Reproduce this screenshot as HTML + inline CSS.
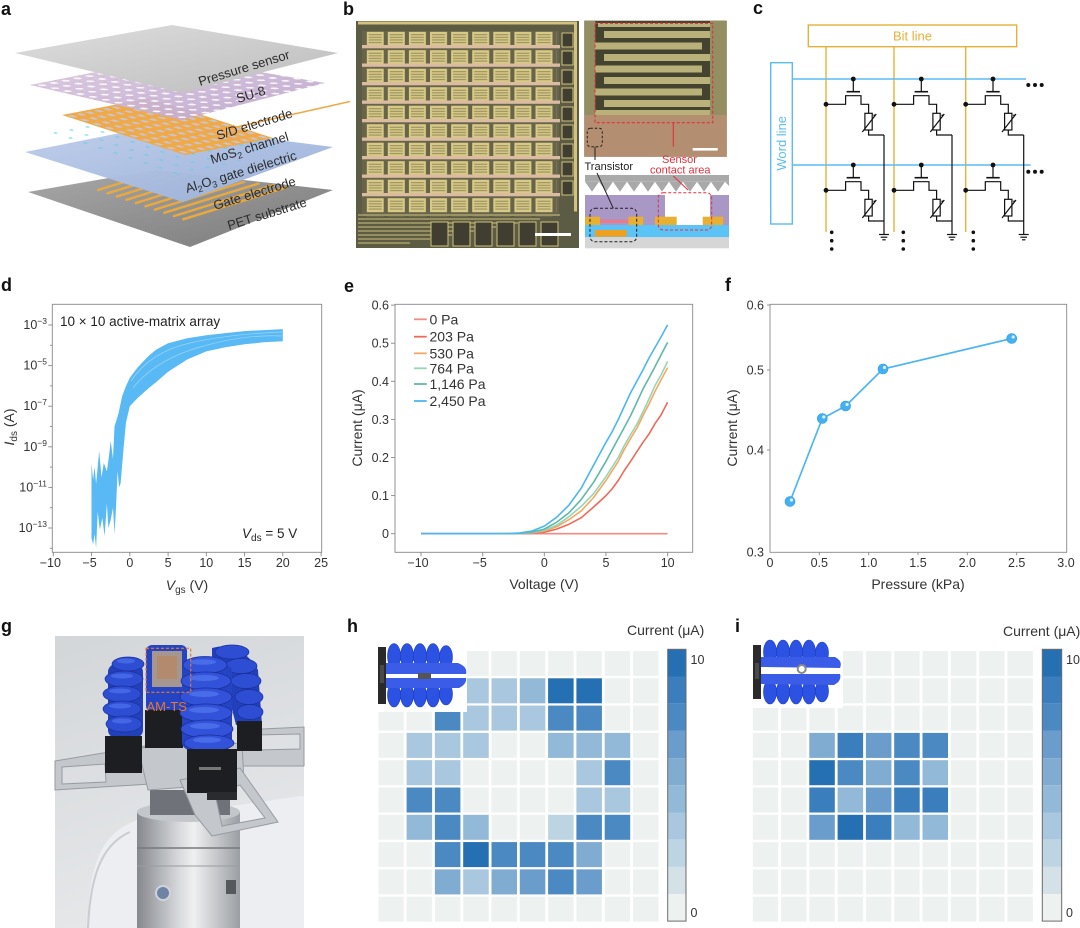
<!DOCTYPE html>
<html><head><meta charset="utf-8">
<style>
html,body{margin:0;padding:0;background:#fff;}
svg{display:block;font-family:"Liberation Sans",Arial,sans-serif;}
.t{font-size:12.5px;fill:#333}
.ax{font-size:14px;fill:#333}
.pl{font-size:18px;font-weight:bold;fill:#111}
.la{font-size:13px;fill:#2b2b2b}
.l0{fill:#edf2f1}.l1{fill:#d4e2e8}.l2{fill:#bdd4e3}.l3{fill:#a9c7de}.l4{fill:#93b9d8}
.l5{fill:#80acd2}.l6{fill:#6a9ccc}.l7{fill:#4b89c3}.l8{fill:#3a7ebd}.l9{fill:#2470b2}
</style></head><body>
<svg width="1080" height="928" viewBox="0 0 1080 928" xmlns="http://www.w3.org/2000/svg">
<defs>
<linearGradient id="gPS" x1="0" y1="0" x2="1" y2="1"><stop offset="0" stop-color="#dedede"/><stop offset="1" stop-color="#bcbcbc"/></linearGradient>
<linearGradient id="gSU" x1="0" y1="0" x2="1" y2="1"><stop offset="0" stop-color="#dccbe3"/><stop offset="1" stop-color="#bba3cb"/></linearGradient>
<linearGradient id="gBL" x1="0" y1="0" x2="1" y2="1"><stop offset="0" stop-color="#bfcdea"/><stop offset="1" stop-color="#98b0da"/></linearGradient>
<linearGradient id="gPET" x1="0" y1="0" x2="1" y2="1"><stop offset="0" stop-color="#a8a8a8"/><stop offset="1" stop-color="#7a7a7a"/></linearGradient>
<linearGradient id="gPhoto" x1="0" y1="0" x2="0.3" y2="1"><stop offset="0" stop-color="#d3d6d9"/><stop offset="1" stop-color="#e6e8ea"/></linearGradient>
<linearGradient id="gCyl" x1="0" y1="0" x2="1" y2="0"><stop offset="0" stop-color="#85888d"/><stop offset="0.4" stop-color="#d6d8db"/><stop offset="0.55" stop-color="#eff0f1"/><stop offset="1" stop-color="#9b9ea3"/></linearGradient>
<pattern id="suDots" patternUnits="userSpaceOnUse" width="10" height="10" patternTransform="matrix(1.18,-0.23,1.27,0.29,30,85)">
<circle cx="5" cy="5" r="2.4" fill="#fff" opacity="0.85"/><circle cx="0" cy="0" r="1.6" fill="#e3a260" opacity="0.55"/></pattern>
<pattern id="sdGrid" patternUnits="userSpaceOnUse" width="10" height="10" patternTransform="matrix(0.88,-0.17,1.23,0.4,62,115)">
<rect width="10" height="10" fill="#f0a948"/><rect x="2.6" y="2.6" width="4.8" height="4.8" fill="#c8c5cf"/></pattern>
<pattern id="cyDots" patternUnits="userSpaceOnUse" width="10" height="10" patternTransform="matrix(1.6,-0.3,1.5,0.5,40,132)">
<circle cx="5" cy="5" r="0.9" fill="#5ccfe3"/></pattern>
<pattern id="cellp" patternUnits="userSpaceOnUse" x="366.7" y="31.7" width="21.1" height="18.5">
<rect width="17" height="14" fill="#d8c985"/><rect x="2" y="2.6" width="13" height="0.9" fill="#8a8459"/><rect x="2" y="5.2" width="13" height="0.9" fill="#8a8459"/><rect x="2" y="7.8" width="13" height="0.9" fill="#8a8459"/><rect x="2" y="10.4" width="13" height="0.9" fill="#8a8459"/></pattern>
<pattern id="hm0" patternUnits="userSpaceOnUse" x="378.3" y="651" width="28.3" height="27.3"><rect width="25.5" height="25" fill="#edf2f1"/></pattern>
<pattern id="hm1" patternUnits="userSpaceOnUse" x="752.7" y="651" width="28.3" height="27.3"><rect width="25.5" height="25" fill="#edf2f1"/></pattern>
</defs>

<!-- ===== Panel labels ===== -->
<text class="pl" x="1" y="15">a</text>
<text class="pl" x="343" y="15">b</text>
<text class="pl" x="753" y="14">c</text>
<text class="pl" x="1" y="291">d</text>
<text class="pl" x="344" y="292">e</text>
<text class="pl" x="725" y="291">f</text>
<text class="pl" x="1" y="632">g</text>
<text class="pl" x="347" y="632">h</text>
<text class="pl" x="735" y="632">i</text>

<!-- ===== Panel a ===== -->
<polygon points="28,192 155,170 333,190 190,247" fill="url(#gPET)"/>
<g stroke="#e9a93c" stroke-width="2.4" stroke-linecap="round">
<line x1="98" y1="190" x2="155.8" y2="172.1"/>
<line x1="107.5" y1="193.3" x2="170.5" y2="173.8"/>
<line x1="116.9" y1="196.5" x2="185" y2="175.4"/>
<line x1="126.4" y1="199.8" x2="199.9" y2="177"/>
<line x1="135.9" y1="203" x2="214.4" y2="178.7"/>
<line x1="145.4" y1="206.3" x2="229.3" y2="180.3"/>
<line x1="154.8" y1="209.6" x2="244" y2="181.9"/>
<line x1="164.3" y1="212.8" x2="258.4" y2="183.6"/>
<line x1="173.8" y1="216.1" x2="273.4" y2="185.2"/>
<line x1="183.2" y1="219.3" x2="287.8" y2="186.9"/>
</g>
<polygon points="25,152 160,125 333,147 183,202" fill="url(#gBL)" opacity="0.97"/>
<polygon points="40,132 150,118 300,140 190,178" fill="url(#cyDots)"/>
<polygon points="62,115 150,98 273,138 185,155" fill="url(#sdGrid)"/>
<polygon points="30,85 172,57 325,83 182,120" fill="url(#gSU)" opacity="0.93"/>
<polygon points="30,85 172,57 325,83 182,120" fill="url(#suDots)"/>
<line x1="232" y1="128" x2="350" y2="101.5" stroke="#f0a948" stroke-width="1.6"/>
<polygon points="15,53 172,25 338,53 182,93" fill="url(#gPS)"/>
<g class="la">
<text transform="translate(200,86) rotate(-17)">Pressure sensor</text>
<text transform="translate(238,103) rotate(-17)">SU-8</text>
<text transform="translate(218,140) rotate(-17)">S/D electrode</text>
<text transform="translate(212,164) rotate(-17)">MoS<tspan font-size="9" dy="3">2</tspan><tspan dy="-3"> channel</tspan></text>
<text transform="translate(187,193) rotate(-17)">Al<tspan font-size="9" dy="3">2</tspan><tspan dy="-3">O</tspan><tspan font-size="9" dy="3">3</tspan><tspan dy="-3"> gate dielectric</tspan></text>
<text transform="translate(215,210) rotate(-17)">Gate electrode</text>
<text transform="translate(229,230) rotate(-17)">PET substrate</text>
</g>

<!-- ===== Panel b ===== -->
<rect x="356" y="21" width="223" height="227" fill="#5c5b43"/>
<rect x="358" y="21.5" width="218" height="3" fill="#d2c27e"/>
<rect x="574" y="21.5" width="3" height="190" fill="#d2c27e"/>
<rect x="362" y="31" width="197" height="185" fill="#66644a"/>
<rect x="366.7" y="31.7" width="190" height="185" fill="url(#cellp)"/>
<g fill="#dcbca0">
<rect x="362" y="45" width="198" height="3.3"/><rect x="362" y="63.5" width="198" height="3.3"/><rect x="362" y="82" width="198" height="3.3"/><rect x="362" y="100.5" width="198" height="3.3"/><rect x="362" y="119" width="198" height="3.3"/><rect x="362" y="137.5" width="198" height="3.3"/><rect x="362" y="156" width="198" height="3.3"/><rect x="362" y="174.5" width="198" height="3.3"/><rect x="362" y="193" width="198" height="3.3"/>
</g>
<g fill="#3f3e30" stroke="#d2c27e" stroke-width="1">
<rect x="562" y="33" width="11" height="14"/><rect x="562" y="51" width="11" height="14"/><rect x="562" y="70" width="11" height="14"/><rect x="562" y="88" width="11" height="14"/><rect x="562" y="107" width="11" height="14"/><rect x="562" y="125" width="11" height="14"/><rect x="562" y="144" width="11" height="14"/><rect x="562" y="162" width="11" height="14"/><rect x="562" y="181" width="11" height="14"/>
</g>
<g stroke="#d2c27e" stroke-width="1.1">
<line x1="358" y1="215" x2="560" y2="215"/><line x1="358" y1="219" x2="540" y2="219"/><line x1="358" y1="223" x2="518" y2="223"/><line x1="358" y1="227" x2="496" y2="227"/><line x1="358" y1="231" x2="474" y2="231"/><line x1="358" y1="235" x2="452" y2="235"/><line x1="358" y1="239" x2="430" y2="239"/><line x1="358" y1="243" x2="410" y2="243"/>
</g>
<g fill="#3f3e30" stroke="#d2c27e" stroke-width="1">
<rect x="431" y="222" width="17" height="24"/><rect x="453" y="222" width="17" height="24"/><rect x="475" y="222" width="17" height="24"/><rect x="497" y="222" width="17" height="24"/><rect x="519" y="222" width="17" height="24"/><rect x="541" y="222" width="17" height="24"/>
</g>
<rect x="535" y="233" width="36" height="3" fill="#fff"/>
<!-- right top micrograph -->
<rect x="584.3" y="20.7" width="142.4" height="136" fill="#44432f"/>
<rect x="584.3" y="115" width="142.4" height="41.7" fill="#b38e70"/>
<rect x="584.3" y="20.7" width="11" height="94.3" fill="#948f62"/>
<rect x="710" y="20.7" width="16.7" height="94.3" fill="#948f62"/>
<g fill="#b9b07a">
<rect x="598" y="23" width="112" height="4"/>
<rect x="604" y="31" width="106" height="7"/><rect x="595" y="42.5" width="107" height="7"/>
<rect x="604" y="54" width="106" height="7"/><rect x="595" y="65.5" width="107" height="7"/>
<rect x="604" y="77" width="106" height="7"/><rect x="595" y="88.5" width="107" height="7"/>
<rect x="604" y="100" width="106" height="7"/><rect x="595" y="110" width="115" height="5"/>
</g>
<rect x="595" y="23.3" width="117.7" height="99.4" fill="none" stroke="#e3303c" stroke-width="1.1" stroke-dasharray="3,2"/>
<line x1="673.3" y1="122.7" x2="673.3" y2="146.7" stroke="#e3303c" stroke-width="1.1"/>
<rect x="692.7" y="148" width="25" height="2.6" fill="#fff"/>
<rect x="587.3" y="128.3" width="15" height="18.4" rx="3" fill="none" stroke="#222" stroke-width="1" stroke-dasharray="2.5,2"/>
<line x1="595" y1="146.7" x2="595" y2="160" stroke="#222" stroke-width="1"/>
<text x="584.5" y="170" font-size="11" fill="#222">Transistor</text>
<text x="662" y="163" font-size="11" fill="#e3303c">Sensor</text>
<text x="650" y="173.3" font-size="11" fill="#e3303c">contact area</text>
<!-- cross-section -->
<rect x="585" y="175" width="144" height="6.7" fill="#a9a9a9"/>
<path d="M585,181.7 L592,191.7 L599,181.7 L606,191.7 L613,181.7 L620,191.7 L627,181.7 L634,191.7 L641,181.7 L648,191.7 L655,181.7 L662,191.7 L669,181.7 L676,191.7 L683,181.7 L690,191.7 L697,181.7 L704,191.7 L711,181.7 L718,191.7 L725,181.7 L729,186 L729,181.7 Z" fill="#a9a9a9"/>
<rect x="585" y="195" width="144" height="30" fill="#a997c5"/>
<rect x="665" y="195" width="45" height="30" fill="#fff"/>
<g fill="#e8b030"><rect x="585" y="216.7" width="15" height="8.3"/><rect x="628.3" y="216.7" width="15" height="8.3"/><rect x="655" y="216.7" width="21.7" height="8.3"/><rect x="702.7" y="216.7" width="20.6" height="8.3"/></g>
<rect x="600" y="219.7" width="28.3" height="3.3" fill="#e87a8a"/>
<rect x="585" y="225" width="144" height="12.3" fill="#5cc3f7"/>
<rect x="595" y="230" width="31.7" height="6.7" fill="#f0a020"/>
<rect x="585" y="237.3" width="144" height="11" fill="#d6d6d6"/>
<rect x="590" y="208.3" width="46.7" height="33.4" rx="5" fill="none" stroke="#222" stroke-width="1" stroke-dasharray="3,2"/>
<rect x="658.3" y="192.7" width="53.4" height="37.3" rx="5" fill="none" stroke="#e3303c" stroke-width="1" stroke-dasharray="3,2"/>
<line x1="597" y1="173" x2="613.3" y2="208.3" stroke="#222" stroke-width="1"/>
<line x1="673.3" y1="176" x2="688" y2="190" stroke="#e3303c" stroke-width="1"/>

<!-- ===== Panel c ===== -->
<rect x="808.3" y="25" width="208.4" height="21.7" fill="none" stroke="#e8b03a" stroke-width="1.4"/>
<text x="912.5" y="40.5" text-anchor="middle" font-size="13" fill="#e8b03a">Bit line</text>
<rect x="770.7" y="62.7" width="21.6" height="161.3" fill="none" stroke="#5bbcf5" stroke-width="1.4"/>
<text transform="translate(786,143.3) rotate(-90)" text-anchor="middle" font-size="13" fill="#5bbcf5">Word line</text>
<g stroke="#e8b03a" stroke-width="1.4">
<line x1="826" y1="46.7" x2="826" y2="232"/><line x1="894" y1="46.7" x2="894" y2="232"/><line x1="965.7" y1="46.7" x2="965.7" y2="232"/>
</g>
<g stroke="#5bbcf5" stroke-width="1.4">
<line x1="792.3" y1="79" x2="1026" y2="79"/><line x1="792.3" y1="165" x2="1030.7" y2="165"/>
</g>
<g fill="#111">
<circle cx="1028.3" cy="85" r="2"/><circle cx="1035" cy="85" r="2"/><circle cx="1041.7" cy="85" r="2"/>
<circle cx="1028.3" cy="171.7" r="2"/><circle cx="1035" cy="171.7" r="2"/><circle cx="1041.7" cy="171.7" r="2"/>
<circle cx="831.7" cy="232.3" r="1.8"/><circle cx="831.7" cy="240.7" r="1.8"/><circle cx="831.7" cy="249" r="1.8"/>
<circle cx="903.3" cy="232.3" r="1.8"/><circle cx="903.3" cy="240.7" r="1.8"/><circle cx="903.3" cy="249" r="1.8"/>
<circle cx="973.3" cy="232.3" r="1.8"/><circle cx="973.3" cy="240.7" r="1.8"/><circle cx="973.3" cy="249" r="1.8"/>
</g>
<g>
<g transform="translate(826,79)">
<g fill="none" stroke="#111" stroke-width="1.2">
<line x1="27.3" y1="0" x2="27.3" y2="12.7"/><line x1="20.6" y1="12.7" x2="34" y2="12.7" stroke-width="1.6"/>
<path d="M0,25.3 H19.6 V16.7 H35 V25.3 H42.6 V34.3"/>
<rect x="38.9" y="34.3" width="7.3" height="16.7"/>
<line x1="36.3" y1="53" x2="50.3" y2="35"/>
<path d="M42.6,51 V56 H58"/>
</g>
<path d="M50.3,35 l-3.4,1 l1.6,1.4 Z" fill="#111"/>
<circle cx="27.3" cy="0" r="2.4" fill="#111"/><circle cx="0" cy="25.3" r="2.4" fill="#111"/>
</g>
<g transform="translate(826,165)">
<g fill="none" stroke="#111" stroke-width="1.2">
<line x1="27.3" y1="0" x2="27.3" y2="12.7"/><line x1="20.6" y1="12.7" x2="34" y2="12.7" stroke-width="1.6"/>
<path d="M0,25.3 H19.6 V16.7 H35 V25.3 H42.6 V34.3"/>
<rect x="38.9" y="34.3" width="7.3" height="16.7"/>
<line x1="36.3" y1="53" x2="50.3" y2="35"/>
<path d="M42.6,51 V56 H58"/>
</g>
<path d="M50.3,35 l-3.4,1 l1.6,1.4 Z" fill="#111"/>
<circle cx="27.3" cy="0" r="2.4" fill="#111"/><circle cx="0" cy="25.3" r="2.4" fill="#111"/>
</g>
<g fill="none" stroke="#111" stroke-width="1.2">
<line x1="884" y1="135" x2="884" y2="234"/>
<line x1="879" y1="234.5" x2="889" y2="234.5"/><line x1="880.7" y1="237.2" x2="887.3" y2="237.2"/><line x1="882.3" y1="239.8" x2="885.7" y2="239.8"/>
</g>
</g>
<g transform="translate(68,0)">
<g transform="translate(826,79)">
<g fill="none" stroke="#111" stroke-width="1.2">
<line x1="27.3" y1="0" x2="27.3" y2="12.7"/><line x1="20.6" y1="12.7" x2="34" y2="12.7" stroke-width="1.6"/>
<path d="M0,25.3 H19.6 V16.7 H35 V25.3 H42.6 V34.3"/>
<rect x="38.9" y="34.3" width="7.3" height="16.7"/>
<line x1="36.3" y1="53" x2="50.3" y2="35"/>
<path d="M42.6,51 V56 H58"/>
</g>
<path d="M50.3,35 l-3.4,1 l1.6,1.4 Z" fill="#111"/>
<circle cx="27.3" cy="0" r="2.4" fill="#111"/><circle cx="0" cy="25.3" r="2.4" fill="#111"/>
</g>
<g transform="translate(826,165)">
<g fill="none" stroke="#111" stroke-width="1.2">
<line x1="27.3" y1="0" x2="27.3" y2="12.7"/><line x1="20.6" y1="12.7" x2="34" y2="12.7" stroke-width="1.6"/>
<path d="M0,25.3 H19.6 V16.7 H35 V25.3 H42.6 V34.3"/>
<rect x="38.9" y="34.3" width="7.3" height="16.7"/>
<line x1="36.3" y1="53" x2="50.3" y2="35"/>
<path d="M42.6,51 V56 H58"/>
</g>
<path d="M50.3,35 l-3.4,1 l1.6,1.4 Z" fill="#111"/>
<circle cx="27.3" cy="0" r="2.4" fill="#111"/><circle cx="0" cy="25.3" r="2.4" fill="#111"/>
</g>
<g fill="none" stroke="#111" stroke-width="1.2">
<line x1="884" y1="135" x2="884" y2="234"/>
<line x1="879" y1="234.5" x2="889" y2="234.5"/><line x1="880.7" y1="237.2" x2="887.3" y2="237.2"/><line x1="882.3" y1="239.8" x2="885.7" y2="239.8"/>
</g>
</g>
<g transform="translate(139.7,0)">
<g transform="translate(826,79)">
<g fill="none" stroke="#111" stroke-width="1.2">
<line x1="27.3" y1="0" x2="27.3" y2="12.7"/><line x1="20.6" y1="12.7" x2="34" y2="12.7" stroke-width="1.6"/>
<path d="M0,25.3 H19.6 V16.7 H35 V25.3 H42.6 V34.3"/>
<rect x="38.9" y="34.3" width="7.3" height="16.7"/>
<line x1="36.3" y1="53" x2="50.3" y2="35"/>
<path d="M42.6,51 V56 H58"/>
</g>
<path d="M50.3,35 l-3.4,1 l1.6,1.4 Z" fill="#111"/>
<circle cx="27.3" cy="0" r="2.4" fill="#111"/><circle cx="0" cy="25.3" r="2.4" fill="#111"/>
</g>
<g transform="translate(826,165)">
<g fill="none" stroke="#111" stroke-width="1.2">
<line x1="27.3" y1="0" x2="27.3" y2="12.7"/><line x1="20.6" y1="12.7" x2="34" y2="12.7" stroke-width="1.6"/>
<path d="M0,25.3 H19.6 V16.7 H35 V25.3 H42.6 V34.3"/>
<rect x="38.9" y="34.3" width="7.3" height="16.7"/>
<line x1="36.3" y1="53" x2="50.3" y2="35"/>
<path d="M42.6,51 V56 H58"/>
</g>
<path d="M50.3,35 l-3.4,1 l1.6,1.4 Z" fill="#111"/>
<circle cx="27.3" cy="0" r="2.4" fill="#111"/><circle cx="0" cy="25.3" r="2.4" fill="#111"/>
</g>
<g fill="none" stroke="#111" stroke-width="1.2">
<line x1="884" y1="135" x2="884" y2="234"/>
<line x1="879" y1="234.5" x2="889" y2="234.5"/><line x1="880.7" y1="237.2" x2="887.3" y2="237.2"/><line x1="882.3" y1="239.8" x2="885.7" y2="239.8"/>
</g>
</g>

<!-- ===== Panel d ===== -->
<polygon fill="#58b9f4" points="91.5,463.4 93.1,479.6 94.6,467.1 96.1,484 99.2,450.9 101.5,477.3 103.8,463 106.9,471.2 109.1,455 110.7,440.7 113,459 114.5,426.5 118.3,414.3 122.2,396 126,386 129.8,377.8 137.5,367.6 145.1,359.5 149,355.5 156.6,349.4 168.1,343.3 187.2,338.2 206.3,335.2 225.4,333.1 244.6,331.1 263.7,330.1 282.8,329.1 282.8,341.2 263.7,342.3 244.6,344.3 225.4,347.3 206.3,351.4 187.2,359.5 168.1,371.7 156.6,381.8 149,387.9 137.5,398.1 129.8,406.2 126,422.4 123.7,446.8 120.6,483.3 119.1,487.4 117.6,471.2 116,507.7 114.5,534.1 113,507.7 110.7,519.9 108.4,528 106.9,503.6 104.6,536.1 102.3,517.8 99.9,530 97.7,511.8 96.1,548.3 94.6,534.1 93.1,544.2 91.5,538.2"/>
<g fill="none" stroke="#ffffff" stroke-width="0.7" opacity="0.4">
<path d="M131,381 Q150,352 190,343 T282,332"/><path d="M133,388 Q155,360 200,347 T282,336"/>
</g>
<rect x="52.3" y="304.3" width="269.4" height="248" fill="none" stroke="#888" stroke-width="0.9"/>
<g stroke="#888" stroke-width="0.9">
<line x1="48.3" y1="325" x2="52.3" y2="325"/><line x1="50" y1="345.3" x2="52.3" y2="345.3"/><line x1="48.3" y1="365.6" x2="52.3" y2="365.6"/><line x1="50" y1="385.9" x2="52.3" y2="385.9"/><line x1="48.3" y1="406.2" x2="52.3" y2="406.2"/><line x1="50" y1="426.5" x2="52.3" y2="426.5"/><line x1="48.3" y1="446.8" x2="52.3" y2="446.8"/><line x1="50" y1="467.1" x2="52.3" y2="467.1"/><line x1="48.3" y1="487.4" x2="52.3" y2="487.4"/><line x1="50" y1="507.7" x2="52.3" y2="507.7"/><line x1="48.3" y1="528" x2="52.3" y2="528"/><line x1="50" y1="548.3" x2="52.3" y2="548.3"/>
<line x1="53.3" y1="552.3" x2="53.3" y2="556.3"/><line x1="91.6" y1="552.3" x2="91.6" y2="556.3"/><line x1="129.8" y1="552.3" x2="129.8" y2="556.3"/><line x1="168.1" y1="552.3" x2="168.1" y2="556.3"/><line x1="206.3" y1="552.3" x2="206.3" y2="556.3"/><line x1="244.6" y1="552.3" x2="244.6" y2="556.3"/><line x1="282.8" y1="552.3" x2="282.8" y2="556.3"/><line x1="321.1" y1="552.3" x2="321.1" y2="556.3"/>
</g>
<g class="t" text-anchor="end">
<text x="47" y="329">10<tspan font-size="8.5" dy="-5">−3</tspan></text>
<text x="47" y="369.6">10<tspan font-size="8.5" dy="-5">−5</tspan></text>
<text x="47" y="410.2">10<tspan font-size="8.5" dy="-5">−7</tspan></text>
<text x="47" y="450.8">10<tspan font-size="8.5" dy="-5">−9</tspan></text>
<text x="47" y="491.4">10<tspan font-size="8.5" dy="-5">−11</tspan></text>
<text x="47" y="532">10<tspan font-size="8.5" dy="-5">−13</tspan></text>
</g>
<g class="t" text-anchor="middle">
<text x="50.3" y="567">−10</text><text x="89.6" y="567">−5</text><text x="129.8" y="567">0</text><text x="168.1" y="567">5</text><text x="206.3" y="567">10</text><text x="244.6" y="567">15</text><text x="282.8" y="567">20</text><text x="321.1" y="567">25</text>
</g>
<text class="ax" x="187" y="590" text-anchor="middle"><tspan font-style="italic">V</tspan><tspan font-size="10" dy="3">gs</tspan><tspan dy="-3"> (V)</tspan></text>
<text class="ax" transform="translate(14,427) rotate(-90)" text-anchor="middle"><tspan font-style="italic">I</tspan><tspan font-size="10" dy="3">ds</tspan><tspan dy="-3"> (A)</tspan></text>
<text x="60" y="326" font-size="13.5" fill="#222">10 × 10 active-matrix array</text>
<text x="242" y="538" font-size="13.5" fill="#222"><tspan font-style="italic">V</tspan><tspan font-size="10" dy="3">ds</tspan><tspan dy="-3"> = 5 V</tspan></text>

<!-- ===== Panel e ===== -->
<rect x="395" y="304.3" width="297.7" height="248" fill="none" stroke="#888" stroke-width="0.9"/>
<g stroke="#888" stroke-width="0.9">
<line x1="391" y1="533.7" x2="395" y2="533.7"/><line x1="391" y1="495.6" x2="395" y2="495.6"/><line x1="391" y1="457.5" x2="395" y2="457.5"/><line x1="391" y1="419.4" x2="395" y2="419.4"/><line x1="391" y1="381.3" x2="395" y2="381.3"/><line x1="391" y1="343.2" x2="395" y2="343.2"/><line x1="391" y1="305.1" x2="395" y2="305.1"/>
<line x1="421" y1="552.3" x2="421" y2="556.3"/><line x1="482.7" y1="552.3" x2="482.7" y2="556.3"/><line x1="544.3" y1="552.3" x2="544.3" y2="556.3"/><line x1="606" y1="552.3" x2="606" y2="556.3"/><line x1="667.7" y1="552.3" x2="667.7" y2="556.3"/>
</g>
<g class="t" text-anchor="end">
<text x="389" y="538">0</text><text x="389" y="500">0.1</text><text x="389" y="462">0.2</text><text x="389" y="424">0.3</text><text x="389" y="385.8">0.4</text><text x="389" y="347.7">0.5</text><text x="389" y="309.6">0.6</text>
</g>
<g class="t" text-anchor="middle">
<text x="418" y="567">−10</text><text x="479.7" y="567">−5</text><text x="544.3" y="567">0</text><text x="606" y="567">5</text><text x="667.7" y="567">10</text>
</g>
<text class="ax" x="544" y="589" text-anchor="middle">Voltage (V)</text>
<text class="ax" transform="translate(362,428) rotate(-90)" text-anchor="middle">Current (μA)</text>
<g fill="none" stroke-width="1.6" stroke-linejoin="round">
<polyline stroke="#f28b82" points="421,533.7 667.6,533.7"/>
<polyline stroke="#ee6a58" points="421,533.7 507.3,533.7 519.6,533.6 532,533.3 544.3,532.2 556.6,529.1 569,524.2 581.3,517.7 593.6,507 606,495.6 612,489 618.3,480.4 624,471 630.6,461.3 636,453 643,442.3 649,434 655.3,423.2 661,415 667.6,402.3"/>
<polyline stroke="#f5a863" points="421,533.7 507.3,533.7 519.6,533.5 532,532.9 544.3,531 556.6,526.8 569,519.6 581.3,510.8 593.6,497.5 606,480.4 618.3,461.3 624,450 630.6,438.5 637,428 643,415.6 649,404 655.3,390.8 661,380 667.6,367.6"/>
<polyline stroke="#97d5b5" points="421,533.7 507.3,533.7 519.6,533.5 532,532.6 544.3,530.3 556.6,525.3 569,516.6 581.3,506.3 593.6,493.7 606,476.6 618.3,457.5 624,446 630.6,434.6 637,424 643,411.8 649,399 655.3,385.1 661,375 667.6,361.5"/>
<polyline stroke="#60b8a7" points="421,533.7 507.3,533.7 519.6,533.4 532,532.2 544.3,529.1 556.6,522.3 569,512.7 581.3,499.4 593.6,482.3 606,461.3 618.3,438.5 624,428 630.6,415.6 637,402 643,388.9 649,378 655.3,366.1 661,355 667.6,342.4"/>
<polyline stroke="#4cb6f3" points="421,533.7 507.3,533.7 519.6,532.9 532,531 544.3,526.1 556.6,517.3 569,505.1 581.3,488 593.6,465.1 606,442.3 612,432 618.3,419.4 624,407 630.6,392.7 637,381 643,369.9 649,358 655.3,347 661,337 667.6,324.9"/>
</g>
<g stroke-width="1.8">
<line x1="414" y1="319.3" x2="426.7" y2="319.3" stroke="#f28b82"/>
<line x1="414" y1="336.7" x2="426.7" y2="336.7" stroke="#ee6a58"/>
<line x1="414" y1="353.3" x2="426.7" y2="353.3" stroke="#f5a863"/>
<line x1="414" y1="368.3" x2="426.7" y2="368.3" stroke="#97d5b5"/>
<line x1="414" y1="384" x2="426.7" y2="384" stroke="#60b8a7"/>
<line x1="414" y1="401" x2="426.7" y2="401" stroke="#4cb6f3"/>
</g>
<g font-size="14" fill="#333">
<text x="429.5" y="324.3">0 Pa</text><text x="429.5" y="341.7">203 Pa</text><text x="429.5" y="358.3">530 Pa</text><text x="429.5" y="373.3">764 Pa</text><text x="429.5" y="389">1,146 Pa</text><text x="429.5" y="406">2,450 Pa</text>
</g>

<!-- ===== Panel f ===== -->
<rect x="770" y="304.3" width="296.7" height="248" fill="none" stroke="#888" stroke-width="0.9"/>
<g stroke="#888" stroke-width="0.9">
<line x1="767" y1="305" x2="770" y2="305"/><line x1="767" y1="370" x2="770" y2="370"/><line x1="767" y1="450" x2="770" y2="450"/>
<line x1="819.3" y1="552.3" x2="819.3" y2="555.3"/><line x1="868.7" y1="552.3" x2="868.7" y2="555.3"/><line x1="918" y1="552.3" x2="918" y2="555.3"/><line x1="967.3" y1="552.3" x2="967.3" y2="555.3"/><line x1="1016.7" y1="552.3" x2="1016.7" y2="555.3"/>
</g>
<g class="t" text-anchor="end">
<text x="764" y="309.5">0.6</text><text x="764" y="374.5">0.5</text><text x="764" y="454.5">0.4</text><text x="764" y="556.5">0.3</text>
</g>
<g class="t" text-anchor="middle">
<text x="770" y="567">0</text><text x="819.3" y="567">0.5</text><text x="868.7" y="567">1.0</text><text x="918" y="567">1.5</text><text x="967.3" y="567">2.0</text><text x="1016.7" y="567">2.5</text><text x="1066" y="567">3.0</text>
</g>
<text class="ax" x="918" y="589" text-anchor="middle">Pressure (kPa)</text>
<text class="ax" transform="translate(737,428) rotate(-90)" text-anchor="middle">Current (μA)</text>
<polyline fill="none" stroke="#4cb6f3" stroke-width="1.7" points="790,501.5 822.3,418.5 845.6,406 883,369 1011.7,338.5"/>
<g fill="#44b0f0" stroke="#2f9ee0" stroke-width="0.6">
<circle cx="790" cy="501.5" r="5"/><circle cx="822.3" cy="418.5" r="5"/><circle cx="845.6" cy="406" r="5"/><circle cx="883" cy="369" r="5"/><circle cx="1011.7" cy="338.5" r="5"/>
</g>
<g fill="#d8f0ff">
<circle cx="791.5" cy="500" r="1.6"/><circle cx="823.8" cy="417" r="1.6"/><circle cx="847.1" cy="404.5" r="1.6"/><circle cx="884.5" cy="367.5" r="1.6"/><circle cx="1013.2" cy="337" r="1.6"/>
</g>

<!-- ===== Panel g (photo) ===== -->
<rect x="55" y="636" width="249" height="292" fill="url(#gPhoto)"/>
<path d="M88,928 C88,868 100,832 138,820 L300,796 L304,796 L304,928 Z" fill="#eceef1"/>
<path d="M88,928 C90,880 100,845 130,832" fill="none" stroke="#c9ccd0" stroke-width="2"/>
<rect x="137" y="812" width="103" height="116" fill="url(#gCyl)"/>
<ellipse cx="188.5" cy="812" rx="51.5" ry="10" fill="#c3c6ca"/>
<line x1="137" y1="848" x2="240" y2="848" stroke="#77797d" stroke-width="1.5"/>
<line x1="137" y1="866" x2="240" y2="866" stroke="#9a9da1" stroke-width="1"/>
<circle cx="163" cy="893" r="7" fill="#7083a6" stroke="#d0d3d8" stroke-width="2"/>
<rect x="226" y="880" width="10" height="14" fill="#55585c"/>
<rect x="150" y="790" width="80" height="25" fill="#6f7278"/>
<g fill="#c4c7cc" stroke="#979ba1" stroke-width="1" fill-rule="evenodd">
<path d="M55,761 L145,746 L150,784 L55,790 Z M62,767 L105,764 L106,782 L62,784 Z"/>
<path d="M240,730 L304,727 L304,766 L242,766 Z M255,735 L300,734 L300,749 L256,750 Z"/>
<path d="M138,748 L242,743 L244,783 L148,790 Z"/>
<path d="M180,780 L240,768 L278,822 L212,836 L195,815 Z M215,794 L240,785 L265,818 L222,826 Z"/>
</g>
<!-- back fingers -->
<rect x="146" y="645" width="41" height="67" rx="6" fill="#2544c4"/>
<rect x="152" y="651" width="30" height="36" fill="#a59690"/>
<rect x="157" y="656" width="20" height="23" fill="#b48a6e"/>
<rect x="108" y="664" width="35" height="74" rx="8" fill="#2340bb"/>
<g fill="#2d4dd3" stroke="#1b2f9a" stroke-width="0.7">
<ellipse cx="128" cy="664" rx="16" ry="7"/><ellipse cx="124" cy="679" rx="19" ry="8"/><ellipse cx="122" cy="694" rx="19" ry="8"/><ellipse cx="122" cy="709" rx="19" ry="8"/><ellipse cx="124" cy="724" rx="18" ry="8"/>
</g>
<g fill="#4f72ee" opacity="0.7">
<ellipse cx="126" cy="661" rx="9" ry="2.5"/><ellipse cx="122" cy="676" rx="11" ry="2.5"/><ellipse cx="120" cy="691" rx="11" ry="2.5"/><ellipse cx="120" cy="706" rx="11" ry="2.5"/><ellipse cx="122" cy="721" rx="10" ry="2.5"/>
</g>
<path d="M212,648 Q240,640 258,670 L262,725 L236,725 Q228,690 212,660 Z" fill="#2340bb"/>
<g fill="#2d4dd3" stroke="#1b2f9a" stroke-width="0.7">
<ellipse cx="232" cy="652" rx="17" ry="7"/><ellipse cx="241" cy="666" rx="16" ry="7.5"/><ellipse cx="246" cy="681" rx="15" ry="7.5"/><ellipse cx="249" cy="697" rx="14" ry="7.5"/><ellipse cx="250" cy="712" rx="13" ry="7.5"/>
</g>
<g fill="#1d1e21">
<rect x="105" y="736" width="37" height="37"/><rect x="145" y="710" width="38" height="38"/><rect x="237" y="721" width="25" height="30"/>
</g>
<!-- front finger -->
<rect x="182" y="664" width="50" height="86" rx="8" fill="#2544c4"/>
<g fill="#3152d9" stroke="#1b2f9a" stroke-width="0.7">
<ellipse cx="205" cy="665" rx="22" ry="8.5"/><ellipse cx="206" cy="681" rx="25" ry="9"/><ellipse cx="206" cy="697" rx="26" ry="9"/><ellipse cx="206" cy="713" rx="26" ry="9"/><ellipse cx="207" cy="729" rx="26" ry="9"/><ellipse cx="209" cy="743" rx="25" ry="8"/>
</g>
<g fill="#5479f0" opacity="0.7">
<ellipse cx="203" cy="662" rx="13" ry="2.8"/><ellipse cx="204" cy="678" rx="15" ry="3"/><ellipse cx="204" cy="694" rx="15" ry="3"/><ellipse cx="204" cy="710" rx="15" ry="3"/><ellipse cx="205" cy="726" rx="15" ry="3"/><ellipse cx="207" cy="740" rx="14" ry="2.8"/>
</g>
<rect x="187" y="749" width="50" height="44" fill="#1d1e21"/>
<rect x="207" y="792" width="30" height="8" fill="#2a2b2e"/>
<rect x="199" y="767" width="22" height="3" fill="#777"/>
<rect x="146" y="648.3" width="44.7" height="44" fill="none" stroke="#e8782a" stroke-width="1.2" stroke-dasharray="3,2"/>
<text x="146.5" y="711" font-size="13" fill="#e8782a">AM-TS</text>

<!-- ===== Panel h (heatmap) ===== -->
<rect x="378.3" y="651" width="283" height="273" fill="url(#hm0)"/>
<g transform="translate(378.3,651)">
<rect class="l3" x="84.9" y="27.3" width="25.5" height="25"/><rect class="l3" x="113.2" y="27.3" width="25.5" height="25"/><rect class="l4" x="141.5" y="27.3" width="25.5" height="25"/><rect class="l9" x="169.8" y="27.3" width="25.5" height="25"/><rect class="l9" x="198.1" y="27.3" width="25.5" height="25"/>
<rect class="l7" x="56.6" y="54.6" width="25.5" height="25"/><rect class="l3" x="84.9" y="54.6" width="25.5" height="25"/><rect class="l3" x="113.2" y="54.6" width="25.5" height="25"/><rect class="l3" x="141.5" y="54.6" width="25.5" height="25"/><rect class="l7" x="169.8" y="54.6" width="25.5" height="25"/><rect class="l7" x="198.1" y="54.6" width="25.5" height="25"/>
<rect class="l3" x="28.3" y="81.9" width="25.5" height="25"/><rect class="l3" x="56.6" y="81.9" width="25.5" height="25"/><rect class="l3" x="84.9" y="81.9" width="25.5" height="25"/><rect class="l4" x="169.8" y="81.9" width="25.5" height="25"/><rect class="l4" x="198.1" y="81.9" width="25.5" height="25"/><rect class="l4" x="226.4" y="81.9" width="25.5" height="25"/>
<rect class="l3" x="28.3" y="109.2" width="25.5" height="25"/><rect class="l3" x="56.6" y="109.2" width="25.5" height="25"/><rect class="l3" x="198.1" y="109.2" width="25.5" height="25"/><rect class="l7" x="226.4" y="109.2" width="25.5" height="25"/>
<rect class="l7" x="28.3" y="136.5" width="25.5" height="25"/><rect class="l7" x="56.6" y="136.5" width="25.5" height="25"/><rect class="l3" x="198.1" y="136.5" width="25.5" height="25"/><rect class="l3" x="226.4" y="136.5" width="25.5" height="25"/>
<rect class="l4" x="28.3" y="163.8" width="25.5" height="25"/><rect class="l7" x="56.6" y="163.8" width="25.5" height="25"/><rect class="l4" x="84.9" y="163.8" width="25.5" height="25"/><rect class="l2" x="169.8" y="163.8" width="25.5" height="25"/><rect class="l7" x="198.1" y="163.8" width="25.5" height="25"/><rect class="l7" x="226.4" y="163.8" width="25.5" height="25"/>
<rect class="l7" x="56.6" y="191.1" width="25.5" height="25"/><rect class="l9" x="84.9" y="191.1" width="25.5" height="25"/><rect class="l7" x="113.2" y="191.1" width="25.5" height="25"/><rect class="l7" x="141.5" y="191.1" width="25.5" height="25"/><rect class="l7" x="169.8" y="191.1" width="25.5" height="25"/><rect class="l5" x="198.1" y="191.1" width="25.5" height="25"/>
<rect class="l5" x="56.6" y="218.4" width="25.5" height="25"/><rect class="l3" x="84.9" y="218.4" width="25.5" height="25"/><rect class="l5" x="113.2" y="218.4" width="25.5" height="25"/><rect class="l6" x="141.5" y="218.4" width="25.5" height="25"/><rect class="l7" x="169.8" y="218.4" width="25.5" height="25"/><rect class="l6" x="198.1" y="218.4" width="25.5" height="25"/>
</g>
<g transform="translate(667.7,649.3)" stroke="none">
<rect class="l9" y="0" width="18.3" height="27.2"/><rect class="l8" y="27.2" width="18.3" height="27.2"/><rect class="l7" y="54.4" width="18.3" height="27.2"/><rect class="l6" y="81.6" width="18.3" height="27.2"/><rect class="l5" y="108.8" width="18.3" height="27.2"/><rect class="l4" y="136" width="18.3" height="27.2"/><rect class="l3" y="163.2" width="18.3" height="27.2"/><rect class="l2" y="190.4" width="18.3" height="27.2"/><rect class="l1" y="217.6" width="18.3" height="27.2"/><rect class="l0" y="244.8" width="18.3" height="27"/>
<rect width="18.3" height="271.8" fill="none" stroke="#6b6b6b" stroke-width="1"/>
</g>
<text x="627" y="635" font-size="14" fill="#333">Current (μA)</text>
<text x="690.5" y="664" class="t">10</text>
<text x="690.5" y="917" class="t">0</text>
<!-- gripper inset h -->
<g transform="translate(378,635)">
<rect width="89" height="77" fill="#fff"/>
<rect x="0" y="12" width="8" height="57" fill="#2a2a2a"/><rect x="2" y="30" width="4" height="18" fill="#4a4a4a"/>
<g fill="#2c52e3" stroke="#1f3cc0" stroke-width="0.6">
<ellipse cx="16" cy="21" rx="6.5" ry="12.5"/><ellipse cx="29" cy="21" rx="6.5" ry="12.5"/><ellipse cx="42" cy="21" rx="6.5" ry="12.5"/><ellipse cx="55" cy="21" rx="6.5" ry="12.5"/><ellipse cx="68" cy="22" rx="6.5" ry="11.5"/>
<ellipse cx="16" cy="60" rx="6.5" ry="12"/><ellipse cx="29" cy="60" rx="6.5" ry="12"/><ellipse cx="42" cy="60" rx="6.5" ry="12"/><ellipse cx="55" cy="60" rx="6.5" ry="12"/><ellipse cx="68" cy="59" rx="6.5" ry="11"/>
</g>
<path d="M8,28 L80,28 Q90,32 88,39 L8,39 Z" fill="#3b5ce6"/>
<path d="M8,43 L88,43 Q89,49 81,53 L8,53 Z" fill="#3b5ce6"/>
<rect x="40" y="38" width="13" height="6" fill="#555"/>
</g>

<!-- ===== Panel i (heatmap) ===== -->
<rect x="752.7" y="651" width="283" height="273" fill="url(#hm1)"/>
<g transform="translate(752.7,651)">
<rect class="l5" x="56.6" y="81.9" width="25.5" height="25"/><rect class="l8" x="84.9" y="81.9" width="25.5" height="25"/><rect class="l6" x="113.2" y="81.9" width="25.5" height="25"/><rect class="l7" x="141.5" y="81.9" width="25.5" height="25"/><rect class="l7" x="169.8" y="81.9" width="25.5" height="25"/>
<rect class="l9" x="56.6" y="109.2" width="25.5" height="25"/><rect class="l7" x="84.9" y="109.2" width="25.5" height="25"/><rect class="l5" x="113.2" y="109.2" width="25.5" height="25"/><rect class="l7" x="141.5" y="109.2" width="25.5" height="25"/><rect class="l4" x="169.8" y="109.2" width="25.5" height="25"/>
<rect class="l8" x="56.6" y="136.5" width="25.5" height="25"/><rect class="l4" x="84.9" y="136.5" width="25.5" height="25"/><rect class="l6" x="113.2" y="136.5" width="25.5" height="25"/><rect class="l8" x="141.5" y="136.5" width="25.5" height="25"/><rect class="l8" x="169.8" y="136.5" width="25.5" height="25"/>
<rect class="l6" x="56.6" y="163.8" width="25.5" height="25"/><rect class="l9" x="84.9" y="163.8" width="25.5" height="25"/><rect class="l8" x="113.2" y="163.8" width="25.5" height="25"/><rect class="l4" x="141.5" y="163.8" width="25.5" height="25"/><rect class="l4" x="169.8" y="163.8" width="25.5" height="25"/>
</g>
<g transform="translate(1042.3,649.3)">
<rect class="l9" y="0" width="19.4" height="27.2"/><rect class="l8" y="27.2" width="19.4" height="27.2"/><rect class="l7" y="54.4" width="19.4" height="27.2"/><rect class="l6" y="81.6" width="19.4" height="27.2"/><rect class="l5" y="108.8" width="19.4" height="27.2"/><rect class="l4" y="136" width="19.4" height="27.2"/><rect class="l3" y="163.2" width="19.4" height="27.2"/><rect class="l2" y="190.4" width="19.4" height="27.2"/><rect class="l1" y="217.6" width="19.4" height="27.2"/><rect class="l0" y="244.8" width="19.4" height="27"/>
<rect width="19.4" height="271.8" fill="none" stroke="#6b6b6b" stroke-width="1"/>
</g>
<text x="1003" y="636" font-size="14" fill="#333">Current (μA)</text>
<text x="1066" y="664" class="t">10</text>
<text x="1066" y="917" class="t">0</text>
<!-- gripper inset i -->
<g transform="translate(753,635)">
<rect width="90" height="73" fill="#fff"/>
<rect x="0" y="10" width="8" height="54" fill="#2a2a2a"/><rect x="2" y="28" width="4" height="16" fill="#4a4a4a"/>
<g fill="#2c52e3" stroke="#1f3cc0" stroke-width="0.6">
<ellipse cx="17" cy="17" rx="6.5" ry="12"/><ellipse cx="30" cy="17" rx="6.5" ry="12"/><ellipse cx="43" cy="17" rx="6.5" ry="12"/><ellipse cx="56" cy="17" rx="6.5" ry="12"/><ellipse cx="69" cy="18" rx="6.5" ry="11"/>
<ellipse cx="17" cy="57" rx="6.5" ry="12"/><ellipse cx="30" cy="57" rx="6.5" ry="12"/><ellipse cx="43" cy="57" rx="6.5" ry="12"/><ellipse cx="56" cy="57" rx="6.5" ry="12"/><ellipse cx="69" cy="56" rx="6.5" ry="11"/>
</g>
<path d="M8,22 L82,22 Q90,26 87,33 L8,32 Z" fill="#3b5ce6"/>
<path d="M8,39 L87,39 Q89,46 81,50 L8,49 Z" fill="#3b5ce6"/>
<circle cx="48.7" cy="34" r="4" fill="#fff" stroke="#8a8a8a" stroke-width="2"/>
</g>
</svg>
</body></html>
